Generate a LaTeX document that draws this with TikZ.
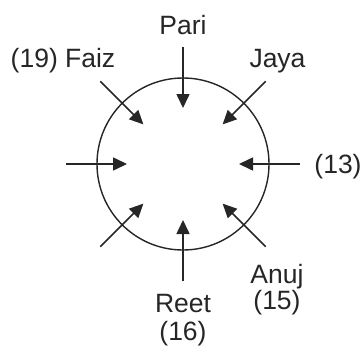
\documentclass[tikz,border=0pt]{standalone}
\usepackage{fontspec}
\setmainfont{Liberation Sans}
\usetikzlibrary{arrows.meta,calc}
\begin{document}
\begin{tikzpicture}[x=1pt,y=-1pt,
  lbl/.style={anchor=base,inner sep=0pt,font=\fontsize{26.5}{31}\selectfont,text=black!85},
  ring/.style={draw=black!85,line width=1.4pt},
  inarrow/.style={draw=black!85,line width=1.6pt,-{Triangle[length=14pt,width=13pt]}}]
\useasboundingbox (0,0) rectangle (364,348);
\coordinate (O) at (183,164);
\node[ring,circle,minimum size=172pt,inner sep=0pt] (c) at (O) {};
\foreach \a/\n in {0/e,45/se,90/s,135/sw,180/w,225/nw,270/n,315/ne}{
  \coordinate (t\n) at ($(O)+(\a:117)$);
  \coordinate (h\n) at ($(O)+(\a:56)$);
  \draw[inarrow] (t\n) -- (h\n);
}
\node[lbl] (pari) at (183,34.5) {Pari};
\node[lbl] (faiz) at (63,67) {(19) Faiz};
\node[lbl] (jaya) at (277.5,67) {Jaya};
\node[lbl] (n13) at (338,173) {(13)};
\node[lbl] (anuj) at (277,283) {Anuj};
\node[lbl] (n15) at (277,309) {(15)};
\node[lbl] (reet) at (183,312) {Reet};
\node[lbl] (n16) at (183,340.5) {(16)};
\end{tikzpicture}
\end{document}
